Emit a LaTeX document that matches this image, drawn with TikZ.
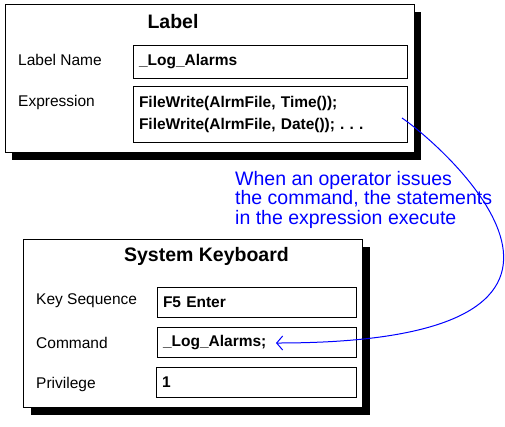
\documentclass[tikz,border=0pt]{standalone}
\usepackage{fontspec}
\setmainfont{Liberation Sans}
\frenchspacing
\usetikzlibrary{shadows,arrows.meta}

\begin{document}
\begin{tikzpicture}[x=1pt,y=-1pt,
  panel/.style={draw,fill=white,line width=1pt,anchor=north west,inner sep=0pt,
    drop shadow={shadow xshift=7pt,shadow yshift=-7pt,fill=black,opacity=1}},
  boxtitle/.style={anchor=base,inner sep=0pt,font=\fontsize{19.5}{23}\selectfont\bfseries},
  fieldname/.style={anchor=base west,inner sep=0pt,font=\fontsize{15.5}{22.5}\selectfont},
  field/.style={draw,line width=1pt,anchor=north west,inner xsep=5.5pt,inner ysep=0pt,align=left,
    font=\fontsize{15.5}{22.5}\selectfont\bfseries},
  remark/.style={anchor=north west,inner sep=0pt,align=left,text=blue,
    font=\fontsize{19.5}{19.5}\selectfont}]
\useasboundingbox (0,0) rectangle (505,426);
\node[panel,minimum width=409pt,minimum height=148pt] (labelpanel) at (4.5,4) {};
\node[boxtitle] (labeltitle) at (173,28) {Label};
\node[fieldname] (namename) at (18,65.5) {Label Name};
\node[fieldname] (exprname) at (18,106.5) {Expression};
\node[field,text width=263pt,minimum height=33pt] (namefield) at (133,45) {\_Log\_Alarms};
\node[field,text width=263pt,minimum height=56pt] (exprfield) at (133,86) {FileWrite(AlrmFile, Time());\\FileWrite(AlrmFile, Date()); . . .};
\node[panel,minimum width=339pt,minimum height=168pt] (kbdpanel) at (23,239) {};
\node[boxtitle] (kbdtitle) at (206.5,261.5) {System Keyboard};
\node[fieldname] (keyname) at (36,304) {Key Sequence};
\node[fieldname] (cmdname) at (36,348) {Command};
\node[fieldname] (privname) at (36,388) {Privilege};
\node[field,text width=188pt,minimum height=30pt] (keyfield) at (157,287) {F5 Enter};
\node[field,text width=188pt,minimum height=30pt] (cmdfield) at (157,327) {\_Log\_Alarms;};
\node[field,text width=189pt,minimum height=30pt] (privfield) at (156,367) {1};
\node[remark] (remark) at (235,171) {When an operator issues\\the command, the statements\\in the expression execute};
\coordinate (arrowfrom) at (402,118);
\coordinate (arrowto) at (276,343);
\draw[blue,line width=1pt,-{Straight Barb[length=6pt,width=14pt]}] (arrowfrom) .. controls +(40,27) and +(393,0) .. (arrowto);
\end{tikzpicture}
\end{document}
